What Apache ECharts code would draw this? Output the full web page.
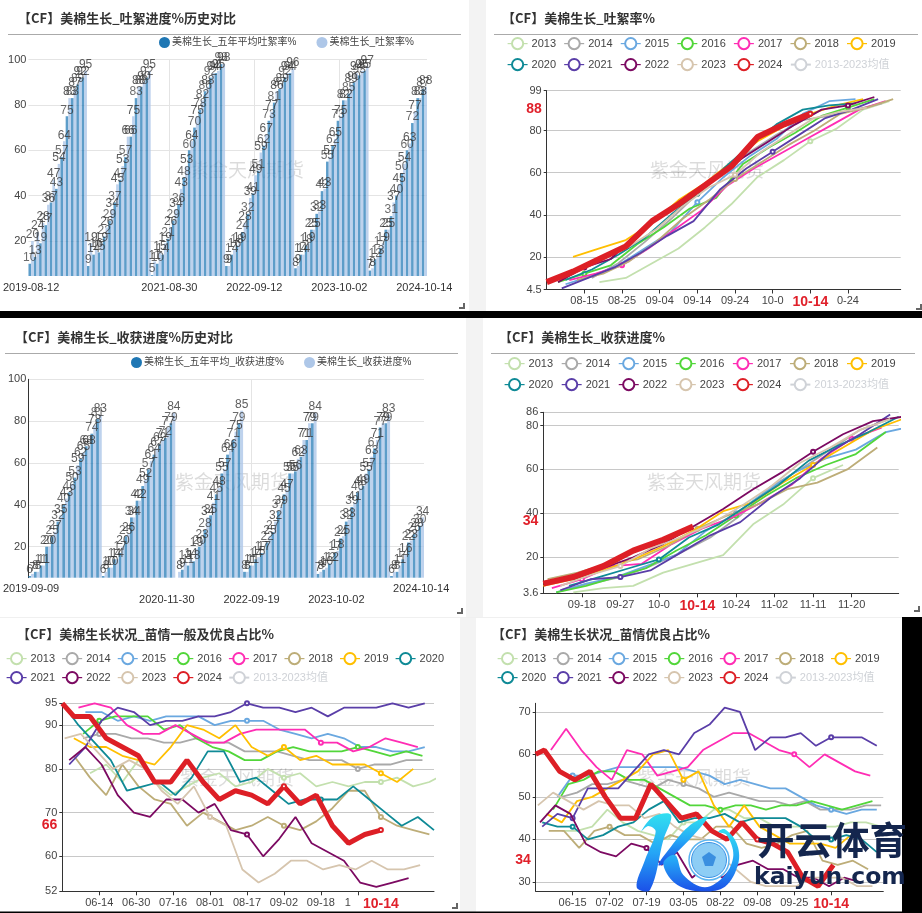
<!DOCTYPE html>
<html>
<head>
<meta charset="utf-8">
<title>美棉生长</title>
<script src="https://cdn.jsdelivr.net/npm/echarts@6/dist/echarts.min.js"></script>
<style>
  html, body { margin: 0; padding: 0; background: #fff; }
  #chart { width: 922px; height: 913px; }
</style>
</head>
<body>
<div id="chart"></div>
<script>
const yearNames = ["2013", "2014", "2015", "2016", "2017", "2018", "2019", "2020", "2021", "2022", "2023", "2024"];
const avgName = "2013-2023均值";
const yearColors = ["#c3e0ae", "#a9a9a9", "#6aa8e0", "#52d63a", "#ff2db4", "#bdad78", "#ffbf00", "#0f8a96", "#5a3ea8", "#7c0a62", "#d6c5ae", "#dd1f26"];

// panel 1: boll progress history, one pair per week, season after season
const bollWeekStarts = [["2019-08-12", 11], ["2020-08-10", 12], ["2021-08-09", 14], ["2022-08-08", 13], ["2023-08-07", 14], ["2024-08-05", 11]];
const bollAvgHistory = [10, 13, 19, 27, 37, 43, 57, 75, 83, 89, 92,
  9, 14, 15, 22, 29, 37, 47, 57, 66, 83, 88, 92,
  5, 10, 14, 21, 29, 36, 48, 60, 70, 78, 86, 92, 94, 98,
  9, 14, 18, 24, 32, 41, 51, 62, 73, 81, 87, 92, 94,
  8, 14, 18, 25, 32, 42, 55, 62, 73, 82, 85, 90, 93, 95,
  7, 12, 17, 25, 31, 40, 50, 60, 72, 83, 87];
const bollNowHistory = [20, 24, 28, 36, 47, 54, 64, 83, 87, 92, 95,
  19, 16, 19, 26, 34, 45, 53, 66, 75, 88, 90, 95,
  11, 15, 19, 26, 34, 43, 53, 64, 75, 82, 88, 94, 95, 98,
  9, 16, 19, 28, 39, 49, 59, 67, 77, 86, 89, 94, 96,
  9, 14, 19, 25, 33, 43, 57, 65, 75, 82, 89, 94, 95, 97,
  8, 13, 19, 25, 37, 45, 54, 63, 77, 83, 88];
const bollHistoryLabels = { "2019-08-12": "", "2021-08-30": "", "2022-09-12": "", "2023-10-02": "", "2024-10-14": "" };

// panel 3: harvest progress history
const harvestWeekStarts = [["2019-09-09", 13], ["2020-09-14", 13], ["2021-09-06", 12], ["2022-09-12", 13], ["2023-09-11", 13], ["2024-09-09", 6]];
const harvestAvgHistory = [6, 8, 11, 20, 25, 32, 40, 46, 53, 62, 68, 74, 81,
  6, 10, 14, 17, 25, 34, 42, 49, 57, 64, 69, 72, 79,
  5, 9, 11, 13, 20, 28, 35, 45, 55, 64, 71, 79,
  8, 11, 14, 17, 22, 27, 37, 45, 55, 56, 63, 71, 79,
  7, 9, 12, 17, 24, 32, 39, 46, 49, 57, 67, 77, 79,
  6, 8, 14, 22, 26, 30];
const harvestNowHistory = [7, 8, 11, 20, 27, 35, 43, 50, 59, 65, 68, 78, 83,
  8, 10, 14, 20, 26, 34, 42, 52, 61, 67, 71, 77, 84,
  8, 13, 14, 19, 23, 34, 41, 48, 57, 66, 75, 85,
  8, 11, 15, 17, 25, 32, 39, 47, 55, 62, 71, 79, 84,
  8, 10, 12, 18, 25, 33, 41, 48, 55, 63, 71, 79, 83,
  8, 11, 16, 23, 28, 34];
const harvestHistoryLabels = { "2019-09-09": "", "2020-11-30": "\n", "2022-09-19": "\n", "2023-10-02": "\n", "2024-10-14": "" };

// panel 2: boll rate by year, weekly, first week given as position on the day axis
const bollTicks = ["08-15", "08-25", "09-04", "09-14", "09-24", "10-0", "10-14", "0-24"];
const bollStarts = [14, 12, 5, 3, 6, 8, 7, 5, 4, 3, 1, 0];
const boll2013 = [8, 10, 17, 24, 34, 45, 58, 66, 75, 81, 90, 94];
const boll2014 = [10, 17, 27, 38, 50, 60, 70, 78, 85, 87, 90, 93];
const boll2015 = [7, 11, 16, 24, 32, 46, 58, 68, 76, 88, 94, 95];
const boll2016 = [8, 12, 16, 26, 34, 43, 48, 64, 72, 79, 87, 91, 95];
const boll2017 = [9, 12, 16, 24, 33, 42, 54, 62, 69, 76, 83, 90, 94];
const boll2018 = [9, 12, 18, 27, 38, 47, 57, 65, 73, 80, 88, 91, 95];
const boll2019 = [20, 24, 28, 36, 47, 55, 65, 75, 82, 88, 92, 95];
const boll2020 = [9, 14, 21, 29, 40, 50, 62, 73, 83, 90, 92, 93];
const boll2021 = [5, 10, 15, 22, 30, 37, 52, 62, 70, 78, 86, 90, 95];
const boll2022 = [8, 15, 19, 31, 40, 50, 58, 67, 75, 83, 90, 92, 96];
const boll2023 = [8, 13, 19, 25, 33, 44, 53, 59, 70, 78, 86, 89, 91];
const boll2024 = [8, 13, 19, 25, 37, 45, 54, 63, 77, 83, 88];

// panel 4: harvest progress by year
const harvestTicks = ["09-18", "09-27", "10-0", "10-14", "10-24", "11-02", "11-11", "11-20"];
const harvestStarts = [7, 4, 3, 3, 2, 1, 0, 6, 4, 7, 4, 0];
const harvest2013 = [4, 6, 7, 13, 17, 21, 35, 44, 56, 62];
const harvest2014 = [5, 8, 11, 16, 22, 29, 39, 52, 60, 69, 78, 83];
const harvest2015 = [4, 8, 11, 16, 21, 32, 40, 50, 59, 65, 69, 77, 80];
const harvest2016 = [4, 7, 11, 15, 23, 30, 39, 48, 56, 62, 67, 77];
const harvest2017 = [6, 10, 16, 17, 26, 33, 38, 45, 53, 65, 74, 79];
const harvest2018 = [10, 13, 17, 19, 25, 33, 39, 44, 51, 54, 60, 70];
const harvest2019 = [7, 10, 14, 19, 25, 32, 41, 45, 54, 62, 70, 78, 83];
const harvest2020 = [7, 11, 15, 19, 29, 35, 44, 53, 64, 71, 77, 84];
const harvest2021 = [5, 10, 11, 14, 22, 30, 36, 47, 56, 68, 76, 85];
const harvest2022 = [10, 15, 20, 26, 34, 42, 51, 59, 68, 76, 82, 84];
const harvest2023 = [7, 12, 16, 24, 29, 35, 43, 52, 63, 70, 78, 83];
const harvest2024 = [8, 11, 16, 23, 28, 34];

// panel 5: crop condition, fair and better
const fairTicks = ["06-14", "06-30", "07-16", "08-01", "08-17", "09-02", "09-18", "1"];
const fairStarts = [12, 9, 10, 9, 7, 5, 5, 0, 3, 3, 1, -2];
const fair2013 = [79, 81, 77, 82, 77, 74, 76, 78, 79, 76, 77, 80, 78, 79, 76, 77, 76, 77, 77, 78, 76, 77, 79];
const fair2014 = [87, 88, 88, 87, 87, 86, 86, 87, 86, 86, 84, 84, 84, 83, 82, 82, 82, 80, 81, 81, 82, 82];
const fair2015 = [93, 93, 91, 92, 91, 92, 92, 92, 90, 91, 91, 91, 89, 88, 87, 88, 87, 85, 85, 84, 84, 85];
const fair2016 = [88, 91, 92, 92, 92, 89, 90, 87, 85, 84, 82, 82, 84, 85, 84, 84, 84, 85, 84, 83, 84, 83];
const fair2017 = [94, 95, 94, 90, 88, 88, 90, 88, 86, 86, 88, 89, 89, 89, 89, 86, 86, 84, 85, 87, 86, 85];
const fair2018 = [83, 78, 74, 81, 76, 73, 72, 67, 70, 68, 66, 67, 69, 67, 66, 68, 71, 75, 75, 69, 67, 66, 65];
const fair2019 = [87, 85, 85, 83, 82, 81, 85, 90, 89, 87, 90, 85, 83, 85, 82, 83, 81, 81, 81, 79, 77, 80];
const fair2020 = [95, 90, 86, 82, 75, 76, 77, 74, 78, 84, 84, 77, 78, 75, 72, 73, 73, 73, 76, 73, 70, 67, 69, 66];
const fair2021 = [81, 85, 91, 94, 93, 90, 91, 91, 92, 92, 93, 95, 94, 94, 93, 94, 92, 94, 94, 94, 95, 94, 95];
const fair2022 = [82, 85, 81, 74, 70, 69, 73, 73, 70, 72, 66, 65, 60, 64, 69, 63, 61, 59, 54, 53, 54, 55];
const fair2023 = [87, 88, 84, 80, 82, 80, 75, 72, 76, 69, 67, 57, 54, 56, 59, 59, 57, 58, 57, 59, 57, 57, 58];
const fair2024 = [95, 92, 92, 87, 85, 83, 77, 77, 82, 77, 73, 75, 74, 72, 76, 72, 74, 67, 63, 65, 66];

// panel 6: crop condition, good and better
const goodTicks = ["06-15", "07-02", "07-19", "03-05", "08-22", "09-08", "09-25", "10-14"];
const goodStarts = [12, 12, 10, 8, 7, 6, 5, 3, 3, 2, 1, -3];
const good2013 = [42, 42, 43, 47, 44, 42, 41, 40, 44, 44, 47, 47, 45, 45, 43, 43, 43, 43, 43, 44, 44, 43, 43];
const good2014 = [50, 51, 53, 53, 54, 53, 52, 54, 53, 52, 50, 51, 50, 49, 49, 48, 49, 47, 47, 47, 48, 48];
const good2015 = [50, 55, 55, 56, 57, 57, 57, 57, 57, 56, 55, 53, 54, 53, 52, 52, 50, 48, 47, 46, 47, 47];
const good2016 = [47, 53, 54, 56, 56, 54, 54, 52, 50, 48, 48, 47, 48, 48, 47, 48, 48, 49, 48, 47, 48, 49];
const good2017 = [61, 66, 61, 57, 54, 61, 60, 55, 56, 57, 61, 63, 65, 65, 63, 61, 60, 57, 60, 58, 56, 55];
const good2018 = [42, 42, 38, 42, 43, 41, 41, 39, 41, 40, 40, 43, 43, 39, 38, 39, 41, 42, 35, 34, 35, 33];
const good2019 = [46, 44, 49, 50, 52, 54, 56, 60, 61, 54, 56, 48, 43, 48, 43, 41, 39, 39, 39, 38, 41];
const good2020 = [44, 43, 43, 40, 41, 43, 44, 47, 49, 44, 45, 45, 46, 44, 45, 45, 45, 43, 40, 40, 41, 40, 37];
const good2021 = [43, 46, 45, 52, 52, 52, 56, 60, 61, 60, 65, 67, 71, 70, 61, 64, 64, 65, 62, 64, 64, 64, 62];
const good2022 = [44, 48, 46, 39, 37, 36, 39, 38, 34, 37, 31, 34, 31, 34, 35, 33, 33, 31, 31, 29, 31, 30];
const good2023 = [48, 51, 49, 47, 49, 48, 48, 45, 46, 43, 41, 40, 36, 33, 30, 29, 29, 29, 31, 31, 31, 29, 29];
const good2024 = [60, 61, 56, 54, 56, 50, 45, 45, 53, 49, 45, 46, 42, 40, 44, 40, 39, 37, 31, 29, 34];

function weekDates(startList) {
  const out = [];
  startList.forEach(function (item) {
    const d = new Date(item[0] + "T00:00:00Z");
    for (let i = 0; i < item[1]; i++) {
      out.push(new Date(d.getTime() + i * 7 * 86400000).toISOString().slice(0, 10));
    }
  });
  return out;
}

function weekly(start, values) {
  return values.map(function (v, i) {
    return [Math.max(start + i * 7, 0), v];
  });
}

// one empty name per day on the axis, tick text on every step-th day
function dayAxis(len, step, ticks) {
  const cats = [];
  for (let i = 0; i < len; i++) {
    cats.push(i % step === 0 && i > 0 && ticks[i / step - 1] ? ticks[i / step - 1] : "");
  }
  return cats;
}

const redText = { color: "#e0202a", fontWeight: "bold", fontSize: 14, fontFamily: "Liberation Sans" };
const labelColor = "#444";

const grids = [
  { left: 27, top: 59.5, width: 400, height: 216.5 },
  { left: 546.7, top: 90.7, width: 354, height: 198.8 },
  { left: 23.3, top: 379.3, width: 400.7, height: 198.4 },
  { left: 543.3, top: 412.3, width: 355.4, height: 181 },
  { left: 62.3, top: 703.3, width: 371.7, height: 188 },
  { left: 535.7, top: 703.3, width: 347.6, height: 188 }
];

const xAxes = [];
const yAxes = [];
const series = [];
const legends = [];

function historyPanel(idx, dates, shownLabels, splitDate, avg, now, names, yMin, withAxisLine) {
  xAxes.push({
    gridIndex: idx,
    type: "category",
    data: dates,
    axisLine: { show: false },
    axisTick: { show: false },
    splitLine: {
      show: true,
      alignWithLabel: true,
      interval: function (i, v) { return splitDate.indexOf(v) >= 0; },
      lineStyle: { color: "#e4e4e4", width: 1 }
    },
    axisLabel: {
      interval: function (i, v) { return v in shownLabels; },
      formatter: function (v) { return shownLabels[v] + v; },
      color: "#333",
      fontSize: 11,
      margin: 6
    }
  });
  yAxes.push({
    gridIndex: idx,
    type: "value",
    min: yMin,
    max: 100,
    axisLine: { show: withAxisLine, lineStyle: { color: "#333" } },
    axisTick: { show: false, customValues: [20, 40, 60, 80, 100] },
    axisLabel: { customValues: [20, 40, 60, 80, 100], color: labelColor, fontSize: 11, margin: 2 },
    splitLine: { lineStyle: { color: "#e4e4e4", width: 1 } }
  });
  const common = {
    type: "bar",
    xAxisIndex: idx,
    yAxisIndex: idx,
    barGap: 0,
    barCategoryGap: "0%",
    label: { show: true, position: "top", distance: 0, color: "#333", fontSize: 12 }
  };
  series.push(Object.assign({}, common, { name: names[0], data: avg, itemStyle: { color: "#1f77b4", opacity: 0.72 } }));
  series.push(Object.assign({}, common, { name: names[1], data: now, itemStyle: { color: "#aec7e8", opacity: 0.8 } }));
}

function yearsPanel(idx, cats, tickStep, lastTick, starts, lists, yMin, yMax, yLabels, yRed, lineWidth, shifted) {
  xAxes.push({
    gridIndex: idx,
    type: "category",
    boundaryGap: false,
    data: cats,
    axisLine: { lineStyle: { color: "#333" } },
    axisTick: {
      length: 4,
      lineStyle: { color: "#333" },
      interval: function (i) { return i > 0 && i % tickStep === 0 && i <= lastTick; }
    },
    axisLabel: {
      interval: function (i, v) { return v !== ""; },
      formatter: function (v) {
        if (v === "10-14") return "{red|" + v + "}";
        if (shifted && v === shifted) return "{moved|" + v + "}";
        return v;
      },
      rich: { red: redText, moved: { color: labelColor, fontSize: 11, padding: [0, 20, 0, 0] } },
      color: labelColor,
      fontSize: 11,
      margin: 6
    },
    splitLine: { show: false }
  });
  yAxes.push({
    gridIndex: idx,
    type: "value",
    min: yMin,
    max: yMax,
    axisLine: { show: true, lineStyle: { color: "#333" } },
    axisTick: { show: true, length: 3, customValues: yLabels, lineStyle: { color: "#333" } },
    axisLabel: {
      customValues: yLabels.concat([yRed]),
      formatter: function (v) { return v === yRed ? "{red|" + v + "}" : String(v); },
      rich: { red: Object.assign({}, redText, { padding: [0, 0, 10, 0] }) },
      color: labelColor,
      fontSize: 11,
      margin: 5
    },
    splitLine: { lineStyle: { color: "#c8c8c8", width: 1 } }
  });
  yearNames.forEach(function (name, i) {
    series.push({
      name: name,
      type: "line",
      xAxisIndex: idx,
      yAxisIndex: idx,
      data: weekly(starts[i], lists[i]),
      symbol: "emptyCircle",
      symbolSize: 4,
      clip: false,
      lineStyle: { color: yearColors[i], width: name === "2024" ? lineWidth : 1.8 },
      itemStyle: { color: yearColors[i] },
      z: 3 + i
    });
  });
  series.push({
    name: avgName,
    type: "line",
    xAxisIndex: idx,
    yAxisIndex: idx,
    data: [],
    symbol: "emptyCircle",
    symbolSize: 4,
    lineStyle: { color: "#ccc", width: 1.8 },
    itemStyle: { color: "#ccc" }
  });
}

function yearLegend(left, top, rowNames, gap) {
  legends.push({
    left: left,
    top: top,
    data: rowNames,
    itemWidth: 20,
    itemHeight: 14,
    itemGap: gap,
    padding: 0,
    selected: { [avgName]: false },
    itemStyle: { borderWidth: 1.2 },
    lineStyle: { width: 1.2 },
    textStyle: { color: "#444", fontSize: 11, padding: [0, 0, 0, -1] }
  });
}

function barLegend(left, top, names) {
  legends.push({
    left: left,
    top: top,
    data: names,
    icon: "circle",
    itemWidth: 11,
    itemHeight: 11,
    itemGap: 20,
    padding: 0,
    itemStyle: { opacity: 1 },
    textStyle: { color: "#444", fontSize: 10, padding: [0, 0, 0, -3] }
  });
}

const bollNames = ["美棉生长_五年平均吐絮率%", "美棉生长_吐絮率%"];
const harvestNames = ["美棉生长_五年平均_收获进度%", "美棉生长_收获进度%"];

historyPanel(0, weekDates(bollWeekStarts), bollHistoryLabels, ["2021-08-30", "2022-09-12", "2023-10-02"], bollAvgHistory, bollNowHistory, bollNames, 4.6, false);
yearsPanel(1, dayAxis(95, 10, bollTicks), 10, 80, bollStarts,
  [boll2013, boll2014, boll2015, boll2016, boll2017, boll2018, boll2019, boll2020, boll2021, boll2022, boll2023, boll2024],
  4.5, 99, [4.5, 20, 40, 60, 80, 99], 88, 6);
historyPanel(2, weekDates(harvestWeekStarts), harvestHistoryLabels, ["2022-09-19"], harvestAvgHistory, harvestNowHistory, harvestNames, 5.2, true);
yearsPanel(3, dayAxis(84, 9, harvestTicks), 9, 72, harvestStarts,
  [harvest2013, harvest2014, harvest2015, harvest2016, harvest2017, harvest2018, harvest2019, harvest2020, harvest2021, harvest2022, harvest2023, harvest2024],
  3.6, 86, [3.6, 20, 40, 60, 80, 86], 34, 6);
const fairCats = dayAxis(162, 16, fairTicks);
fairCats[138] = "10-14";
yearsPanel(4, fairCats, 16, 128, fairStarts,
  [fair2013, fair2014, fair2015, fair2016, fair2017, fair2018, fair2019, fair2020, fair2021, fair2022, fair2023, fair2024],
  52, 95, [52, 60, 70, 80, 90, 95], 66, 5, "1");
yearsPanel(5, dayAxis(161, 17, goodTicks), 17, 136, goodStarts,
  [good2013, good2014, good2015, good2016, good2017, good2018, good2019, good2020, good2021, good2022, good2023, good2024],
  27.8, 72, [30, 40, 50, 60, 70], 34, 5);

barLegend(159, 37, bollNames);
yearLegend(507, 37, yearNames.slice(0, 7), 7.5);
yearLegend(507, 58, yearNames.slice(7).concat([avgName]), 7.5);
barLegend(131, 357, harvestNames);
yearLegend(504, 357, yearNames.slice(0, 7), 8);
yearLegend(504, 378, yearNames.slice(7).concat([avgName]), 8);
yearLegend(6, 652, yearNames.slice(0, 8), 6.5);
yearLegend(6, 671, yearNames.slice(8).concat([avgName]), 6.5);
yearLegend(497, 652, yearNames.slice(0, 7), 6.5);
yearLegend(497, 671, yearNames.slice(7).concat([avgName]), 6.5);

const titleFont = { fontFamily: "Noto Sans CJK SC", fontWeight: "bold", fontSize: 13, color: "#333" };
const titles = [
  ["【CF】美棉生长_吐絮进度%历史对比", 18, 12],
  ["【CF】美棉生长_吐絮率%", 502, 12],
  ["【CF】美棉生长_收获进度%历史对比", 15, 331],
  ["【CF】美棉生长_收获进度%", 499, 331],
  ["【CF】美棉生长状况_苗情一般及优良占比%", 17, 628],
  ["【CF】美棉生长状况_苗情优良占比%", 492, 628]
].map(function (t) {
  return { text: t[0], left: t[1], top: t[2], padding: 0, textStyle: titleFont };
});

const graphics = [];
function rect(x, y, w, h, fill, z) {
  graphics.push({ type: "rect", silent: true, z: z, shape: { x: x, y: y, width: w, height: h }, style: { fill: fill } });
}
function watermark(x, y) {
  graphics.push({ type: "text", silent: true, z: 1, x: x, y: y, style: { text: "紫金天风期货", fill: "rgba(0,0,0,0.14)", fontSize: 19, fontFamily: "Noto Sans CJK SC", textVerticalAlign: "middle" } });
}

// panel gutters and rules
rect(469, 0, 17, 311, "#f3f3f3", -1);
rect(466, 318, 17, 299, "#f3f3f3", -1);
rect(460, 617, 16, 295, "#f3f3f3", -1);
rect(0, 617, 902, 1, "#f0f0f0", -1);
rect(8, 34, 453, 1, "#aaa", 0);
rect(494, 34, 424, 1, "#aaa", 0);
rect(5, 353, 453, 1, "#aaa", 0);
rect(491, 353, 424, 1, "#aaa", 0);
rect(0, 311, 922, 7, "#000", 50);
rect(0, 911.5, 922, 1.5, "#000", 50);
rect(902, 617, 20, 296, "#000", 50);

[[463, 307], [920, 308], [461, 612], [918, 610], [456, 907]].forEach(function (p) {
  graphics.push({ type: "polygon", silent: true, z: 5, shape: { points: [[p[0] + 2, p[1] - 4], [p[0] + 2, p[1] + 2], [p[0] - 4, p[1] + 2], [p[0] - 4, p[1]], [p[0], p[1]], [p[0], p[1] - 4]] }, style: { fill: "#666" } });
});

watermark(190, 170);
watermark(650, 170);
watermark(175, 482);
watermark(647, 482);
watermark(180, 778);
watermark(637, 778);

// site logo sitting over the last panel, outline traced in a 3x crop around (625, 800)
function logoShape(points, z) {
  graphics.push({
    type: "polygon", silent: true, z: z,
    shape: {
      smooth: 0.35,
      points: points.map(function (p) { return [625 + p[0] / 3, 800 + p[1] / 3]; })
    },
    style: {
      fill: new echarts.graphic.LinearGradient(0, 0, 0, 1, [{ offset: 0, color: "#32dff0" }, { offset: 0.5, color: "#25a6f6" }, { offset: 1, color: "#1b50e8" }])
    }
  });
}
logoShape([[48, 95], [85, 50], [138, 45], [115, 120], [75, 270], [35, 262], [60, 180], [92, 95], [70, 78]], 60);
logoShape([[248, 50], [215, 95], [120, 190], [100, 195], [130, 150], [190, 80]], 60);
logoShape([[115, 190], [150, 165], [175, 225], [240, 262], [300, 225], [325, 165], [305, 105], [280, 95], [300, 88], [335, 130], [340, 190], [300, 260], [220, 274], [150, 250]], 60);
graphics.push({ type: "circle", silent: true, z: 61, shape: { cx: 709, cy: 860, r: 20 }, style: { fill: "#fff", stroke: "#5cb4f0", lineWidth: 1.5 } });
graphics.push({ type: "circle", silent: true, z: 62, shape: { cx: 709, cy: 860, r: 17.5 }, style: { fill: "#8dcdf5", stroke: "#3b93e6", lineWidth: 1 } });
graphics.push({ type: "polygon", silent: true, z: 63, shape: { points: [[709, 852], [716, 857], [713, 866], [705, 866], [702, 857]] }, style: { fill: "#3a8fe0" } });
graphics.push({ type: "text", silent: true, z: 64, x: 757, y: 821, style: { text: "开云体育", fontSize: 37.5, fontWeight: "bold", fontFamily: "Noto Sans CJK SC", fill: "#14264e" } });
graphics.push({ type: "text", silent: true, z: 64, x: 754, y: 866, style: { text: "kaiyun.com", fontSize: 23.5, fontWeight: "bold", fontFamily: "DejaVu Sans", fill: "#14264e" } });

const myChart = echarts.init(document.getElementById("chart"), null, { renderer: "canvas" });
myChart.setOption({
  animation: false,
  backgroundColor: "#fff",
  textStyle: { fontFamily: "Liberation Sans, Noto Sans CJK SC" },
  title: titles,
  legend: legends,
  grid: grids,
  xAxis: xAxes,
  yAxis: yAxes,
  series: series,
  graphic: graphics
});
</script>
</body>
</html>
